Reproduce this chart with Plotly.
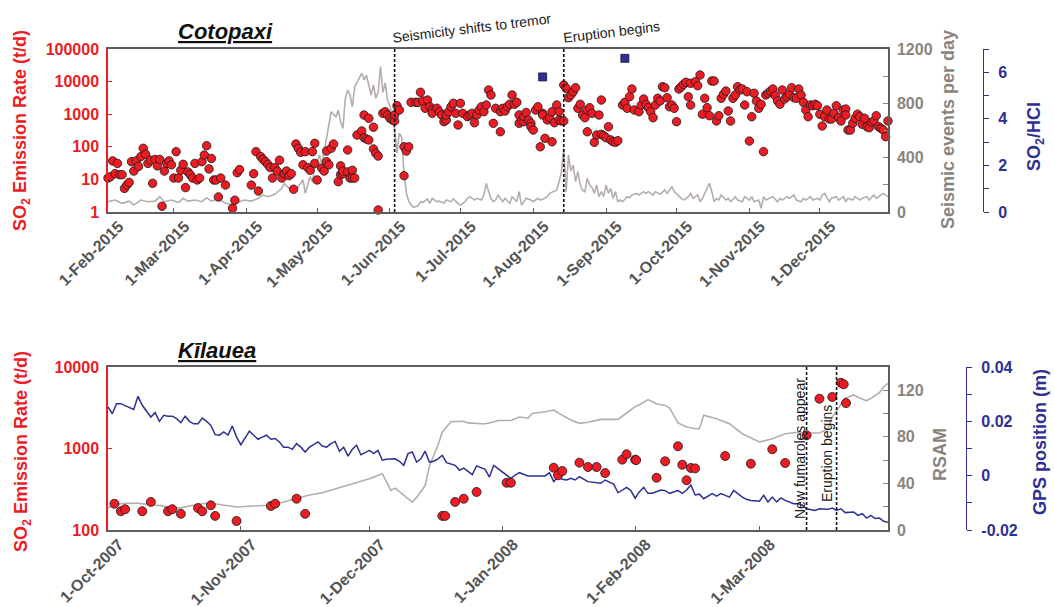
import plotly.graph_objects as go

W, H = 1054, 607

# ---------------- Cotopaxi (2015) ----------------
COT_YEAR = "2015"
COT_SO2_MD = [
    "02-01","02-02","02-03","02-04","02-05","02-06","02-07","02-08","02-09","02-10","02-11","02-12","02-13","02-14","02-15","02-16","02-17","02-18","02-19","02-20","02-21","02-22","02-23","02-24","02-25","02-26","02-27","02-28",
    "03-01","03-02","03-03","03-04","03-05","03-06","03-07","03-08","03-09","03-10","03-11","03-12","03-13","03-14","03-15","03-16","03-17","03-18","03-19","03-20","03-21","03-23","03-26","03-27","03-28","03-29",
    "04-03","04-04","04-05","04-06","04-07","04-08","04-09","04-10","04-11","04-12","04-13","04-14","04-15","04-16","04-17","04-18","04-19","04-20","04-21","04-22","04-23","04-24","04-25","04-26","04-27","04-28","04-29","04-30","04-30",
    "05-01","05-03","05-04","05-05","05-05","05-06","05-07","05-08","05-10","05-11","05-11","05-12","05-12","05-14","05-14","05-15","05-16","05-16","05-17","05-18","05-20","05-21","05-21","05-22","05-23","05-23","05-25","05-25","05-26","05-27","05-27","05-29","05-30","05-31",
    "06-01","06-02","06-03","06-03","06-04","06-05","06-07","06-07","06-08","06-09","06-10","06-12","06-13","06-14","06-15","06-16","06-17","06-18","06-19","06-19","06-21","06-22","06-23","06-24","06-25","06-25","06-26","06-27","06-28","06-29","06-30",
    "07-01","07-02","07-04","07-05","07-06","07-07","07-08","07-09","07-10","07-11","07-12","07-13","07-14","07-15","07-16","07-18","07-18","07-19","07-20","07-21","07-22","07-23","07-24","07-25","07-26","07-26","07-27","07-28","07-28","07-29","07-30","07-31","07-31",
    "08-01","08-02","08-03","08-04","08-05","08-05","08-06","08-07","08-08","08-09","08-09","08-10","08-11","08-12","08-12","08-13","08-14","08-14","08-15","08-16","08-17","08-18","08-19","08-20","08-21","08-22","08-23","08-24","08-24","08-25","08-26","08-27","08-28","08-29","08-30","08-30","08-31",
    "09-01","09-02","09-03","09-04","09-05","09-06","09-08","09-09","09-10","09-11","09-12","09-13","09-15","09-16","09-17","09-18","09-19","09-20","09-21","09-22","09-23","09-24","09-25","09-26","09-27","09-28","09-29","09-30",
    "10-01","10-02","10-03","10-04","10-05","10-06","10-07","10-07","10-09","10-10","10-11","10-12","10-13","10-14","10-15","10-16","10-17","10-18","10-19","10-20","10-21","10-22","10-23","10-24","10-25","10-26","10-27","10-28","10-29","10-30","10-31",
    "11-01","11-02","11-03","11-04","11-05","11-06","11-07","11-08","11-09","11-10","11-11","11-12","11-13","11-14","11-15","11-16","11-17","11-18","11-19","11-20","11-21","11-22","11-23","11-24","11-25","11-26","11-27","11-28","11-29","11-30",
    "12-01","12-02","12-03","12-04","12-05","12-06","12-07","12-08","12-09","12-10","12-11","12-12","12-12","12-13","12-14","12-15","12-16","12-17","12-18","12-19","12-20","12-21","12-22","12-23","12-24","12-25","12-26","12-27","12-28","12-29","12-30",
]
COT_SO2_TD = [
    11,12,37,15,31,14,14,5.3,6.7,8.1,35,18,37,25,50,90,59,31,39,7.6,41,26,41,1.5,18,31,37,28,
    11,71,11,19,29,5.6,17,14,11,31,9.6,11,35,56,108,21,44,9.6,9.6,2.9,11,6.7,1.3,2.3,16,20,
    6.7,15,71,4.4,50,41,35,29,23,11,23,18,39,11,15,18,13,15,5,122,90,68,28,71,23,19,71,128,31,
    9.6,22,18,35,74,28,90,122,8.5,14,26,15,18,80,17,11,19,11,11,230,305,190,945,173,162,750,400,86,63,52,1.15,1065,1190,945,
    750,664,620,945,1820,1345,13,100,74,100,2316,2316,2300,4700,2540,1517,2727,1700,1345,1066,1517,1194,945,589,664,945,1194,1700,2160,1066,467,
    2160,1066,838,945,1066,548,945,1345,1700,1194,1915,5525,3880,526,1517,1194,290,1517,1254,1700,2013,3880,2013,2316,526,945,620,589,838,1132,664,526,414,
    327,1345,1700,100,1066,945,182,664,781,1194,143,548,1915,1194,664,620,620,7865,6230,3210,3880,4900,6500,1517,2013,945,781,290,1345,1585,1066,137,230,945,2727,242,219,
    190,414,162,143,137,154,1915,2316,1517,3440,5930,1345,1194,1915,2925,2013,1585,1194,781,1915,3075,2540,6980,6500,3210,1700,1915,1517,
    589,5930,6980,8260,9520,3440,8870,1915,9930,7480,15900,1000,3075,1585,900,10430,10430,620,900,3075,4075,5150,1254,620,3075,3880,6980,5525,5930,1915,4900,
    150,838,4380,2540,1517,2013,71,3880,4380,5150,5930,3690,2540,2013,5525,2925,3440,4075,6500,3210,3075,5930,3880,2316,1345,838,1915,1820,2013,1820,
    990,435,838,1345,713,713,1066,1820,781,620,1345,1445,945,327,327,526,750,1000,838,490,750,414,385,565,620,900,414,370,327,204,620,
]
COT_SEIS_MD = [
    "02-01","02-04","02-07","02-10","02-12","02-15","02-18","02-21","02-23","02-25","02-28",
    "03-03","03-05","03-07","03-10","03-13","03-15","03-17","03-20","03-23","03-26","03-29","03-31",
    "04-03","04-06","04-08","04-10","04-13","04-16","04-17","04-19","04-21","04-23","04-25","04-26","04-28","04-29","04-30",
    "05-02","05-03","05-05","05-06","05-07","05-09","05-10","05-11","05-12","05-13","05-14","05-15","05-16","05-17","05-19","05-20","05-21","05-22","05-23","05-24","05-25","05-26","05-27","05-28","05-29","05-30","05-31",
    "06-01","06-02","06-03","06-04","06-05","06-06","06-07","06-08","06-09","06-10","06-11","06-13","06-14","06-15","06-17","06-18","06-19","06-21","06-22","06-24","06-25","06-27","06-28","06-30",
    "07-01","07-03","07-04","07-05","07-07","07-08","07-10","07-11","07-12","07-13","07-14","07-15","07-16","07-17","07-19","07-20","07-22","07-23","07-25","07-26","07-27","07-28","07-29","07-31",
    "08-01","08-03","08-04","08-06","08-07","08-08","08-10","08-11","08-12","08-13","08-14","08-15","08-16","08-17","08-18","08-19","08-20","08-21","08-22","08-23","08-24","08-25","08-26","08-27","08-28","08-29","08-30","08-31",
    "09-01","09-02","09-03","09-04","09-05","09-06","09-07","09-08","09-10","09-11","09-12","09-14","09-15","09-17","09-18","09-19","09-21","09-22","09-24","09-25","09-26","09-27","09-29","09-30",
    "10-02","10-03","10-04","10-06","10-07","10-08","10-10","10-11","10-12","10-14","10-15","10-16","10-17","10-18","10-19","10-20","10-22","10-23","10-24","10-26","10-27","10-29","10-30",
    "11-01","11-02","11-03","11-05","11-06","11-07","11-08","11-10","11-11","11-13","11-14","11-15","11-17","11-18","11-20","11-21","11-23","11-24","11-25","11-27","11-28","11-30",
    "12-01","12-02","12-03","12-05","12-06","12-08","12-09","12-11","12-12","12-13","12-15","12-16","12-18","12-19","12-21","12-22","12-24","12-25","12-27","12-28","12-30",
]
COT_SEIS_EVENTS = [
    76,88,64,80,51,88,76,80,113,76,88,
    70,101,80,88,76,105,80,96,64,56,76,88,
    80,101,125,113,130,174,211,174,150,186,236,137,260,223,321,
    420,346,542,616,738,701,750,665,616,837,898,861,775,922,996,1021,971,1008,935,861,935,837,886,1070,880,950,820,
    780,700,604,434,580,552,287,140,80,52,35,45,76,70,96,64,101,76,80,64,88,76,96,64,
    51,76,101,113,88,101,88,125,211,150,101,76,88,125,76,101,64,113,76,150,51,76,101,88,
    76,101,88,101,113,137,150,162,223,297,469,150,420,300,346,223,297,199,160,150,248,199,180,137,199,113,150,113,
    199,137,174,101,150,76,88,76,113,105,125,137,125,150,137,150,125,150,130,150,162,137,186,150,
    113,101,88,113,137,101,125,76,101,174,211,150,76,101,88,125,88,101,76,113,88,76,113,
    88,113,76,88,27,113,88,101,113,76,101,88,113,101,125,88,76,101,88,113,88,101,
    88,125,137,76,101,113,88,113,76,101,88,113,88,101,113,88,125,101,125,137,113,
]
COT_RATIO_MD = ["08-05", "09-09"]
COT_RATIO = [5.8, 6.6]
COT_EVENT_DATES = ["2015-06-03", "2015-08-14"]
COT_EVENT_TEXT = ["Seismicity shifts to tremor", "Eruption begins"]
COT_TICK_DATES = ["2015-02-01","2015-03-01","2015-04-01","2015-05-01","2015-06-01","2015-07-01",
                  "2015-08-01","2015-09-01","2015-10-01","2015-11-01","2015-12-01"]
COT_TICK_TEXT = ["1-Feb-2015","1-Mar-2015","1-Apr-2015","1-May-2015","1-Jun-2015","1-Jul-2015",
                 "1-Aug-2015","1-Sep-2015","1-Oct-2015","1-Nov-2015","1-Dec-2015"]
COT_SO2_TICKS = [1, 10, 100, 1000, 10000, 100000]
COT_SO2_TICK_TEXT = ["1", "10", "100", "1000", "10000", "100000"]
COT_SEIS_TICKS = [0, 400, 800, 1200]
COT_RATIO_TICKS = [0, 2, 4, 6]

# ---------------- Kilauea (2007-2008) ----------------
KIL_SO2_DATES = ["2007-10-02 12:00","2007-10-04","2007-10-05","2007-10-09","2007-10-11","2007-10-15","2007-10-16","2007-10-18","2007-10-22","2007-10-23",
                 "2007-10-25","2007-10-26","2007-10-31","2007-11-08","2007-11-09","2007-11-14","2007-11-16","2007-12-18","2007-12-18 16:00","2007-12-21",
                 "2007-12-23","2007-12-26","2008-01-02","2008-01-03","2008-01-13","2008-01-14","2008-01-15","2008-01-19","2008-01-21","2008-01-23",
                 "2008-01-25","2008-01-29","2008-01-30","2008-02-01","2008-02-01 06:00","2008-02-06","2008-02-08","2008-02-11","2008-02-12","2008-02-13",
                 "2008-02-14","2008-02-15","2008-02-22","2008-02-28","2008-03-04","2008-03-07","2008-03-12","2008-03-15","2008-03-18","2008-03-20",
                 "2008-03-20 16:00","2008-03-21 05:00"]
KIL_SO2 = [210,170,180,170,221,170,180,158,186,170,
           201,149,129,197,210,242,158,149,149,221,
           242,293,380,380,581,469,529,670,593,593,
           500,730,849,730,720,438,697,1065,632,408,
           577,570,809,650,978,664,1452,4080,4290,6410,
           6140,3610]
KIL_RSAM_DATES = ["2007-10-01","2007-10-03","2007-10-05","2007-10-08","2007-10-10","2007-10-13","2007-10-16","2007-10-18","2007-10-20","2007-10-23",
                  "2007-10-25","2007-10-27","2007-10-30","2007-10-31","2007-11-04","2007-11-06","2007-11-08","2007-11-11","2007-11-14","2007-11-17",
                  "2007-11-20","2007-11-23","2007-11-27","2007-11-30","2007-12-01","2007-12-04","2007-12-06","2007-12-07","2007-12-09","2007-12-11",
                  "2007-12-12","2007-12-14","2007-12-15","2007-12-17","2007-12-18","2007-12-20","2007-12-23","2007-12-24","2007-12-27","2007-12-28",
                  "2007-12-30","2007-12-31","2008-01-03","2008-01-05","2008-01-07","2008-01-08","2008-01-11","2008-01-13","2008-01-15","2008-01-17",
                  "2008-01-19","2008-01-21","2008-01-24","2008-01-28","2008-01-30","2008-02-01","2008-02-02","2008-02-04","2008-02-06","2008-02-08",
                  "2008-02-09","2008-02-10","2008-02-11","2008-02-13","2008-02-15","2008-02-16","2008-02-17","2008-02-20","2008-02-23","2008-02-26",
                  "2008-02-29","2008-03-01","2008-03-04","2008-03-07","2008-03-10","2008-03-12","2008-03-15","2008-03-17","2008-03-18","2008-03-20",
                  "2008-03-21","2008-03-23","2008-03-24","2008-03-26","2008-03-27","2008-03-29","2008-03-30","2008-03-31"]
KIL_RSAM = [19,22,23,23,22,21,19,19,20.6,22.6,
            23,21.8,20.6,19.8,20.6,20.6,21.2,24,27,30,
            32,35.5,40,43,44,48.4,34,36,30,24,
            28,38,55,73,84,93,93.4,92,91.3,91.3,
            92.8,94,94,97,96,100,101.6,103,98.5,94.5,
            91.6,92.5,95,95,100.5,106,107.6,112,108.5,107,
            105,98,92,88.5,87,87,98.5,95.6,91.3,82.7,
            77,75.6,78.4,82.7,84,83.3,83.3,87,97,107,
            113,116,114,111,113,118,123,126]
KIL_GPS_DATES = [
    "2007-10-01","2007-10-02","2007-10-03","2007-10-04","2007-10-05","2007-10-06","2007-10-07","2007-10-08","2007-10-09","2007-10-10",
    "2007-10-11","2007-10-12","2007-10-13","2007-10-14","2007-10-15","2007-10-16","2007-10-17","2007-10-18","2007-10-19","2007-10-20",
    "2007-10-21","2007-10-22","2007-10-23","2007-10-24","2007-10-25","2007-10-26","2007-10-27","2007-10-28","2007-10-29","2007-10-30",
    "2007-10-31","2007-11-01","2007-11-02","2007-11-03","2007-11-04","2007-11-05","2007-11-06","2007-11-07","2007-11-08","2007-11-09",
    "2007-11-10","2007-11-11","2007-11-12","2007-11-13","2007-11-14","2007-11-15","2007-11-16","2007-11-17","2007-11-18","2007-11-19",
    "2007-11-20","2007-11-21","2007-11-22","2007-11-23","2007-11-24","2007-11-25","2007-11-26","2007-11-27","2007-11-28","2007-11-29",
    "2007-11-30","2007-12-01","2007-12-02","2007-12-03","2007-12-04","2007-12-05","2007-12-07","2007-12-08","2007-12-09","2007-12-10",
    "2007-12-11","2007-12-12","2007-12-13","2007-12-14","2007-12-15","2007-12-16","2007-12-17","2007-12-18","2007-12-19","2007-12-21",
    "2007-12-22","2007-12-23","2007-12-24","2007-12-25","2007-12-26","2007-12-27","2007-12-28","2007-12-29","2007-12-30","2007-12-31",
    "2008-01-01","2008-01-03","2008-01-04","2008-01-05","2008-01-07","2008-01-10","2008-01-11","2008-01-12","2008-01-13","2008-01-14",
    "2008-01-15","2008-01-16","2008-01-17","2008-01-18","2008-01-19","2008-01-21","2008-01-22","2008-01-24","2008-01-25","2008-01-27",
    "2008-01-28","2008-01-30","2008-01-31","2008-02-01","2008-02-02","2008-02-03","2008-02-04","2008-02-05","2008-02-07","2008-02-08",
    "2008-02-09","2008-02-11","2008-02-12","2008-02-13","2008-02-14","2008-02-15","2008-02-16","2008-02-17","2008-02-19","2008-02-20",
    "2008-02-21","2008-02-23","2008-02-24","2008-02-26","2008-02-27","2008-02-28","2008-03-01","2008-03-02","2008-03-03","2008-03-04",
    "2008-03-05","2008-03-06","2008-03-07","2008-03-09","2008-03-10","2008-03-11","2008-03-12","2008-03-14","2008-03-15","2008-03-17",
    "2008-03-18","2008-03-19","2008-03-20","2008-03-21","2008-03-23","2008-03-24","2008-03-25","2008-03-26","2008-03-27","2008-03-28",
    "2008-03-29","2008-03-30","2008-03-31",
]
KIL_GPS = [
    0.0253,0.0228,0.0265,0.0265,0.0258,0.0250,0.0244,0.0292,0.0259,0.0237,
    0.0216,0.0232,0.0200,0.0222,0.0219,0.0219,0.0210,0.0195,0.0219,0.0200,
    0.0191,0.0191,0.0212,0.0200,0.0185,0.0151,0.0149,0.0161,0.0149,0.0183,
    0.0142,0.0114,0.0139,0.0164,0.0149,0.0134,0.0142,0.0149,0.0134,0.0137,
    0.0124,0.0105,0.0105,0.0097,0.0118,0.0105,0.0087,0.0105,0.0114,0.0124,
    0.0109,0.0105,0.0118,0.0126,0.0090,0.0105,0.0072,0.0097,0.0112,0.0077,
    0.0085,0.0093,0.0081,0.0093,0.0057,0.0060,0.0062,0.0053,0.0038,0.0081,
    0.0087,0.0050,0.0062,0.0090,0.0050,0.0053,0.0062,0.0075,0.0048,0.0038,
    0.0020,0.0028,0.0016,0.0004,0.0036,0.0028,0.0023,-0.0005,0.0038,0.0026,
    0.0015,-0.0010,0.0002,0.0011,-0.0001,-0.0001,-0.0001,0.0011,-0.0022,-0.0004,
    -0.0013,-0.0016,-0.0010,-0.0016,-0.0004,-0.0022,-0.0024,-0.0028,-0.0016,-0.0031,
    -0.0063,-0.0043,-0.0055,-0.0083,-0.0059,-0.0043,-0.0065,-0.0065,-0.0053,-0.0055,
    -0.0065,-0.0055,-0.0065,-0.0053,-0.0034,-0.0071,-0.0068,-0.0085,-0.0066,-0.0075,
    -0.0066,-0.0079,-0.0054,-0.0079,-0.0087,-0.0091,-0.0094,-0.0072,-0.0097,-0.0079,
    -0.0097,-0.0082,-0.0091,-0.0103,-0.0103,-0.0109,-0.0122,-0.0128,-0.0122,-0.0124,
    -0.0119,-0.0128,-0.0122,-0.0136,-0.0134,-0.0146,-0.0140,-0.0156,-0.0146,-0.0158,
    -0.0156,-0.0168,-0.0172,
]
KIL_EVENT_DATES = ["2008-03-12", "2008-03-19"]
KIL_EVENT_TEXT = ["New fumaroles appear", "Eruption begins"]
KIL_TICK_DATES = ["2007-10-01","2007-11-01","2007-12-01","2008-01-01","2008-02-01","2008-03-01"]
KIL_TICK_TEXT = ["1-Oct-2007","1-Nov-2007","1-Dec-2007","1-Jan-2008","1-Feb-2008","1-Mar-2008"]
KIL_SO2_TICKS = [100, 1000, 10000]
KIL_SO2_TICK_TEXT = ["100", "1000", "10000"]
KIL_RSAM_TICKS = [0, 40, 80, 120]
KIL_GPS_TICKS = [-0.02, 0, 0.02, 0.04]
KIL_GPS_TICK_TEXT = ["-0.02", "0", "0.02", "0.04"]

assert len(COT_SO2_MD) == len(COT_SO2_TD), (len(COT_SO2_MD), len(COT_SO2_TD))
assert len(COT_SEIS_MD) == len(COT_SEIS_EVENTS), (len(COT_SEIS_MD), len(COT_SEIS_EVENTS))
assert len(KIL_RSAM_DATES) == len(KIL_RSAM), (len(KIL_RSAM_DATES), len(KIL_RSAM))
assert len(KIL_GPS_DATES) == len(KIL_GPS), (len(KIL_GPS_DATES), len(KIL_GPS))
assert len(KIL_SO2_DATES) == len(KIL_SO2)

cot_so2_x = [f"{COT_YEAR}-{d}" for d in COT_SO2_MD]
cot_seis_x = [f"{COT_YEAR}-{d}" for d in COT_SEIS_MD]
cot_ratio_x = [f"{COT_YEAR}-{d}" for d in COT_RATIO_MD]

# ---------------- styling ----------------
RED = "#ed1c24"
GRAYLINE = "#b5adab"
GRAYT = "#8a8480"
BLUE = "#2e3192"
FRAME = "#5e5e5e"
XT = "#555555"
FONT = "Liberation Sans, Arial, sans-serif"


def fx(px):
    return px / W


def fy(py):
    return 1 - py / H


X_DOM = [fx(108), fx(888)]
TOP_DOM = [fy(212), fy(49)]
BOT_DOM = [fy(530), fy(367)]

fig = go.Figure()
fig.add_trace(go.Scatter(x=cot_seis_x, y=COT_SEIS_EVENTS, xaxis="x", yaxis="y", mode="lines",
                         line=dict(color=GRAYLINE, width=1.6), hoverinfo="skip"))
fig.add_trace(go.Scatter(x=cot_so2_x, y=COT_SO2_TD, xaxis="x", yaxis="y2", mode="markers",
                         marker=dict(size=8.5, color=RED, line=dict(color="#1a1a1a", width=0.8)),
                         cliponaxis=False))
fig.add_trace(go.Scatter(x=cot_ratio_x, y=COT_RATIO, xaxis="x", yaxis="y3", mode="markers",
                         marker=dict(symbol="square", size=8, color=BLUE, line=dict(color="#111133", width=0.8)),
                         cliponaxis=False))
fig.add_trace(go.Scatter(x=KIL_RSAM_DATES, y=KIL_RSAM, xaxis="x2", yaxis="y4", mode="lines",
                         line=dict(color=GRAYLINE, width=1.6), hoverinfo="skip"))
fig.add_trace(go.Scatter(x=KIL_GPS_DATES, y=KIL_GPS, xaxis="x2", yaxis="y5", mode="lines",
                         line=dict(color=BLUE, width=1.5), hoverinfo="skip"))
fig.add_trace(go.Scatter(x=KIL_SO2_DATES, y=KIL_SO2, xaxis="x2", yaxis="y6", mode="markers",
                         marker=dict(size=9, color=RED, line=dict(color="#1a1a1a", width=0.8)),
                         cliponaxis=False))


def xaxis_cfg(rng, tv, tt, anchor):
    return dict(domain=X_DOM, anchor=anchor, type="date", range=rng, tickmode="array",
                tickvals=tv, ticktext=tt, tickangle=-45, ticks="inside", ticklen=4,
                tickcolor=FRAME, showline=True, linecolor=FRAME, linewidth=1.5, mirror=True,
                showgrid=False, zeroline=False, automargin=False,
                ticklabelshift=11, ticklabelstandoff=-3,
                tickfont=dict(family=FONT, size=16, color=XT, weight="bold"))


def rfont(c):
    return dict(family=FONT, size=16, color=c, weight="bold")


fig.update_layout(
    width=W, height=H, autosize=False, margin=dict(l=0, r=0, t=0, b=0, pad=0, autoexpand=False),
    paper_bgcolor="white", plot_bgcolor="white", showlegend=False,
    font=dict(family=FONT),
    xaxis=xaxis_cfg(["2015-02-01", "2015-12-30"], COT_TICK_DATES, COT_TICK_TEXT, "y"),
    yaxis=dict(domain=TOP_DOM, anchor="x", side="right", range=[0, 1200], tickmode="array",
               tickvals=COT_SEIS_TICKS, ticks="inside", ticklen=5, tickcolor=GRAYT,
               minor=dict(dtick=200, tick0=0, ticks="inside", ticklen=5, tickcolor=GRAYT, showgrid=False),
               showline=True, linecolor=FRAME, linewidth=1.5, showgrid=False, zeroline=False,
               automargin=False, tickfont=rfont(GRAYT), ticklabelstandoff=4),
    yaxis2=dict(overlaying="y", anchor="x", side="left", type="log", range=[0, 5], tickmode="array",
                tickvals=COT_SO2_TICKS, ticktext=COT_SO2_TICK_TEXT, ticks="inside", ticklen=4,
                tickcolor=RED, showline=True, linecolor=RED, linewidth=1.5, showgrid=False,
                zeroline=False, automargin=False, tickfont=rfont(RED), ticklabelstandoff=4),
    yaxis3=dict(overlaying="y", anchor="free", position=fx(983), side="right", range=[0, 7],
                tickmode="array", tickvals=COT_RATIO_TICKS, ticks="outside", ticklen=5, tickcolor=BLUE,
                minor=dict(dtick=1, tick0=0, ticks="outside", ticklen=5, tickcolor=BLUE, showgrid=False),
                showline=True, linecolor=BLUE, linewidth=1.2, showgrid=False, zeroline=False,
                automargin=False, tickfont=rfont(BLUE), ticklabelstandoff=6),
    xaxis2=xaxis_cfg(["2007-10-01", "2008-03-31"], KIL_TICK_DATES, KIL_TICK_TEXT, "y4"),
    yaxis4=dict(domain=BOT_DOM, anchor="x2", side="right", range=[0, 140], tickmode="array",
                tickvals=KIL_RSAM_TICKS, ticks="inside", ticklen=5, tickcolor=GRAYT,
                minor=dict(dtick=20, tick0=0, ticks="inside", ticklen=5, tickcolor=GRAYT, showgrid=False),
                showline=True, linecolor=FRAME, linewidth=1.5, showgrid=False, zeroline=False,
                automargin=False, tickfont=rfont(GRAYT), ticklabelstandoff=4),
    yaxis5=dict(overlaying="y4", anchor="free", position=fx(966), side="right", range=[-0.02, 0.04],
                tickmode="array", tickvals=KIL_GPS_TICKS, ticktext=KIL_GPS_TICK_TEXT, ticks="outside",
                ticklen=5, tickcolor=BLUE,
                minor=dict(dtick=0.01, tick0=0, ticks="outside", ticklen=5, tickcolor=BLUE, showgrid=False),
                showline=True, linecolor=BLUE, linewidth=1.2, showgrid=False, zeroline=False,
                automargin=False, tickfont=rfont(BLUE), ticklabelstandoff=6),
    yaxis6=dict(overlaying="y4", anchor="x2", side="left", type="log", range=[2, 4], tickmode="array",
                tickvals=KIL_SO2_TICKS, ticktext=KIL_SO2_TICK_TEXT, ticks="inside", ticklen=4,
                tickcolor=RED, showline=True, linecolor=RED, linewidth=1.5, showgrid=False,
                zeroline=False, automargin=False, tickfont=rfont(RED), ticklabelstandoff=4),
)

DASH = dict(color="#111111", width=1.6, dash="3px,2px")
for d in COT_EVENT_DATES:
    fig.add_shape(type="line", xref="x", yref="y domain", x0=d, x1=d, y0=0, y1=1, line=DASH, layer="above")
for d in KIL_EVENT_DATES:
    fig.add_shape(type="line", xref="x2", yref="y4 domain", x0=d, x1=d, y0=0, y1=1, line=DASH, layer="above")


def ann(text, px, py, size, color, angle=0, bold=True):
    t = f"<b>{text}</b>" if bold else text
    fig.add_annotation(text=t, x=fx(px), y=fy(py), xref="paper", yref="paper", showarrow=False,
                       xanchor="center", yanchor="middle", textangle=angle,
                       font=dict(family=FONT, size=size, color=color))


SO2_TITLE = "SO<sub>2</sub> Emission Rate (t/d)"
ann("<i><u>Cotopaxi</u></i>", 225, 31, 22, "#111111")
ann("<i><u>Kīlauea</u></i>", 217, 350, 22, "#111111")
ann(SO2_TITLE, 22, 131, 18, RED, -90)
ann(SO2_TITLE, 22, 452, 18, RED, -90)
ann("Seismic events per day", 948, 130, 18, GRAYT, -90)
ann("SO<sub>2</sub>/HCl", 1035, 137, 18, BLUE, -90)
ann("RSAM", 940, 455, 18, GRAYT, -90)
ann("GPS position (m)", 1040, 442, 18, BLUE, -90)
ann(COT_EVENT_TEXT[0], 472, 28, 14, "#1a1a1a", -7, bold=False)
ann(COT_EVENT_TEXT[1], 611, 32, 14, "#1a1a1a", -7, bold=False)
ann(KIL_EVENT_TEXT[0], 800, 449, 14, "#1a1a1a", -90, bold=False)
ann(KIL_EVENT_TEXT[1], 827, 454, 14, "#1a1a1a", -90, bold=False)

fig.write_html("out.html", config={"displayModeBar": False})
